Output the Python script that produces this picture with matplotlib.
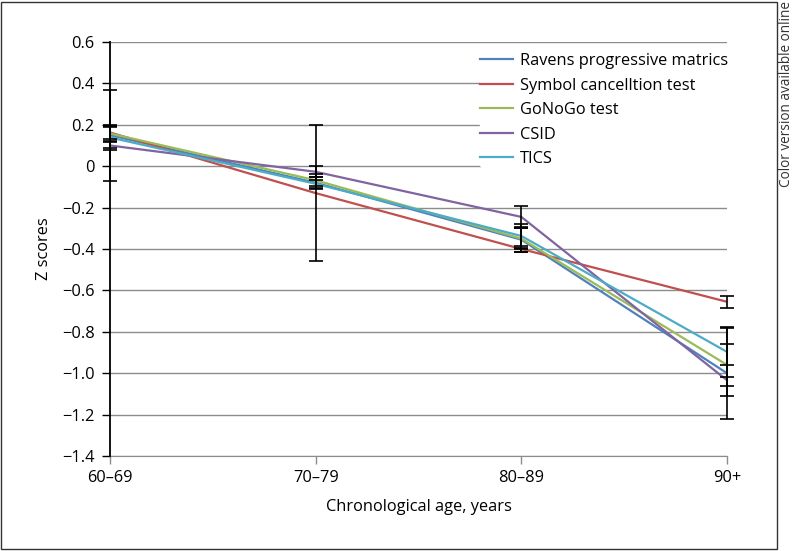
import matplotlib
matplotlib.use("Agg")
import matplotlib.pyplot as plt
from matplotlib.patches import Rectangle

plt.rcParams['font.family'] = ['Open Sans', 'DejaVu Sans']

# Daten
age_groups = ['60\u201369', '70\u201379', '80\u201389', '90+']
series_names = ['Ravens progressive matrics', 'Symbol cancelltion test',
                'GoNoGo test', 'CSID', 'TICS']
colors = ['#4F81BD', '#C0504D', '#9BBB59', '#8064A2', '#4BACC6']

ravens = [0.150, -0.080, -0.355, -1.000]
symbol = [0.163, -0.130, -0.400, -0.655]
gonogo = [0.158, -0.068, -0.350, -0.960]
csid = [0.100, -0.027, -0.245, -1.034]
tics = [0.139, -0.085, -0.337, -0.897]

ravens_err = [0.22, 0.03, 0.06, 0.22]
symbol_err = [0.03, 0.33, 0.015, 0.03]
gonogo_err = [0.04, 0.03, 0.05, 0.10]
csid_err = [0.02, 0.027, 0.055, 0.075]
tics_err = [0.05, 0.02, 0.06, 0.12]

values = [ravens, symbol, gonogo, csid, tics]
errors = [ravens_err, symbol_err, gonogo_err, csid_err, tics_err]

W, H = 793, 551
fig = plt.figure(figsize=(W / 100, H / 100), dpi=100)
ax = fig.add_axes([110 / W, 1 - 456 / H, (727 - 110) / W, (456 - 42) / H])

x = list(range(len(age_groups)))

# Linien
for name, vals, c in zip(series_names, values, colors):
    ax.plot(x, vals, color=c, lw=1.6, label=name, zorder=3)

# Fehlerbalken
for vals, errs in zip(values, errors):
    eb = ax.errorbar(x, vals, yerr=errs, fmt='none', ecolor='black', elinewidth=1.2,
                     capsize=5, capthick=1.2, zorder=4)
    for art in eb.lines[1] + eb.lines[2]:
        art.set_clip_on(False)

ax.set_xlim(0, 3)
ax.set_ylim(-1.4, 0.6)
ax.set_xticks(x)
ax.set_xticklabels(age_groups)
yt = [-1.4 + 0.2 * i for i in range(11)]
ax.set_yticks(yt)
ax.set_yticklabels([f'{v:.1f}'.replace('-', '\u2212') if abs(v) > 1e-9 else '0' for v in yt])

fs = 11.8
ax.grid(axis='y', color='#8c8c8c', lw=1, zorder=0)
for s in ['top', 'right']:
    ax.spines[s].set_visible(False)
ax.spines['left'].set_color('black')
ax.spines['left'].set_linewidth(1.3)
ax.spines['left'].set_zorder(4)
ax.spines['bottom'].set_color('#8c8c8c')
ax.tick_params(axis='y', direction='out', length=6, width=1, labelsize=fs, pad=5)
ax.tick_params(axis='x', direction='out', length=6, width=1, color='#8c8c8c',
               labelsize=fs, pad=4)

# Achsenbeschriftungen
ax.set_xlabel('Chronological age, years', fontsize=fs)
ax.set_ylabel('Z scores', fontsize=fs)
ax.xaxis.set_label_coords(0.5, -0.105)
ax.yaxis.set_label_coords(-0.094, 0.5)

# Legende
leg = ax.legend(loc='upper left', bbox_to_anchor=(480 / W, 1 - 53 / H),
                bbox_transform=fig.transFigure, frameon=True, fontsize=fs,
                handlelength=2.0, handletextpad=0.45, labelspacing=0.52,
                borderpad=0, borderaxespad=0)
leg.get_frame().set_edgecolor('white')
leg.get_frame().set_facecolor('white')
leg.get_frame().set_alpha(1)
leg.set_zorder(5)

# Rahmen und Hinweis
fig.add_artist(Rectangle((1 / W, 2 / H), 776 / W, 547 / H, transform=fig.transFigure,
                         fill=False, ec='#333333', lw=1))
fig.text(786 / W, 1 - 1 / H, 'Color version available online', rotation=90,
         ha='center', va='top', fontsize=9.8, color='#333333')

fig.savefig('out.png', dpi=100)
